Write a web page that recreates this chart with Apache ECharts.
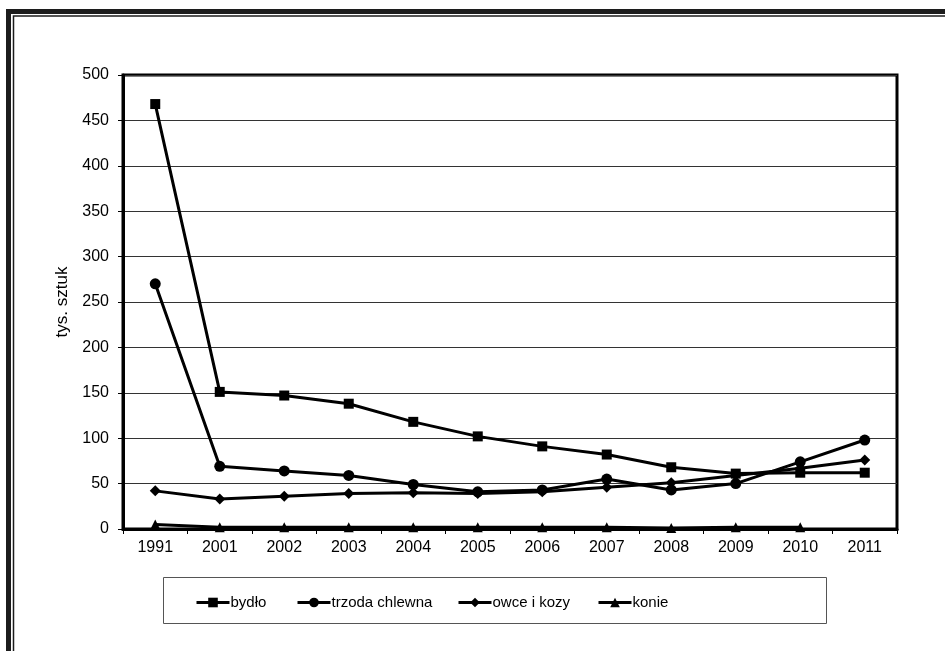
<!DOCTYPE html>
<html>
<head>
<meta charset="utf-8">
<script src="https://cdn.jsdelivr.net/npm/echarts@6/dist/echarts.min.js"></script>
<style>
html,body{margin:0;padding:0;background:#fff;}
#chart{width:945px;height:651px;}
</style>
</head>
<body>
<div id="chart"></div>
<script>
const categories = ['1991','2001','2002','2003','2004','2005','2006','2007','2008','2009','2010','2011'];
const bydlo = [468,151,147,138,118,102,91,82,68,61,62,62];
const trzoda = [270,69,64,59,49,41,43,55,43,50,74,98];
const owce = [42,33,36,39,40,39,41,46,51,59,67,76];
const konie = [5,2,2,2,2,2,2,2,1,2,2,null];
const seriesNames = ['bydło','trzoda chlewna','owce i kozy','konie'];

const FONT = '"Liberation Sans", Arial, sans-serif';
const chart = echarts.init(document.getElementById('chart'), null, {renderer:'canvas'});

function mkSeries(name, data, symbol, size){
  return {
    name: name, type: 'line', data: data, symbol: symbol, symbolSize: size,
    showSymbol: true, connectNulls: false,
    lineStyle: {color:'#000', width:3},
    itemStyle: {color:'#000', borderColor:'#000', borderWidth:0},
    emphasis: {disabled:true},
    animation: false
  };
}
const legendLefts = [195, 296, 457, 597];
const legends = seriesNames.map((n, i) => ({
  left: legendLefts[i], top: 595,
  itemWidth: 33, itemHeight: 12, itemGap: 0, padding: 0,
  textStyle: {fontFamily: FONT, fontSize: 15, color:'#000', padding:[0,0,0,-4]},
  lineStyle: {width: 3, color:'#000'},
  data: [n],
  selectedMode: false
}));

chart.setOption({
  backgroundColor: '#fff',
  animation: false,
  textStyle: {fontFamily: FONT},
  grid: {left:123, top:75, right:48, bottom:122, show:true, borderColor:'#000', borderWidth:3, backgroundColor:'transparent'},
  legend: legends,
  xAxis: {
    type: 'category', data: categories, boundaryGap: true,
    axisLine: {show:true, lineStyle:{color:'#000', width:3}},
    axisTick: {show:true, alignWithLabel:false, length:5, lineStyle:{color:'#000', width:1}},
    axisLabel: {fontFamily: FONT, fontSize:16, color:'#000', margin:11},
    splitLine: {show:false}
  },
  yAxis: {
    type: 'value', min:0, max:500, interval:50,
    name: 'tys. sztuk', nameLocation:'middle', nameRotate:90, nameGap:52,
    nameTextStyle: {fontFamily: FONT, fontSize:17, color:'#000'},
    axisLine: {show:true, lineStyle:{color:'#000', width:3}},
    axisTick: {show:true, length:5, lineStyle:{color:'#000', width:1}},
    axisLabel: {fontFamily: FONT, fontSize:16, color:'#000', margin:14},
    splitLine: {show:true, lineStyle:{color:'#333', width:1}}
  },
  series: [
    mkSeries(seriesNames[0], bydlo, 'rect', 10),
    mkSeries(seriesNames[1], trzoda, 'circle', 11),
    mkSeries(seriesNames[2], owce, 'diamond', 11),
    mkSeries(seriesNames[3], konie, 'triangle', 10)
  ],
  graphic: [
    {type:'polyline', shape:{points:[[8.5,651],[8.5,11.5],[945,11.5]]}, style:{stroke:'#1c1c1c', lineWidth:5, fill:null}, silent:true},
    {type:'polyline', shape:{points:[[13.5,651],[13.5,16],[945,16]]}, style:{stroke:'#1c1c1c', lineWidth:1.5, fill:null}, silent:true},
    {type:'rect', shape:{x:163.5, y:577.5, width:663, height:46}, style:{stroke:'#555', lineWidth:1, fill:null}, silent:true, z:-1}
  ]
});
</script>
</body>
</html>
